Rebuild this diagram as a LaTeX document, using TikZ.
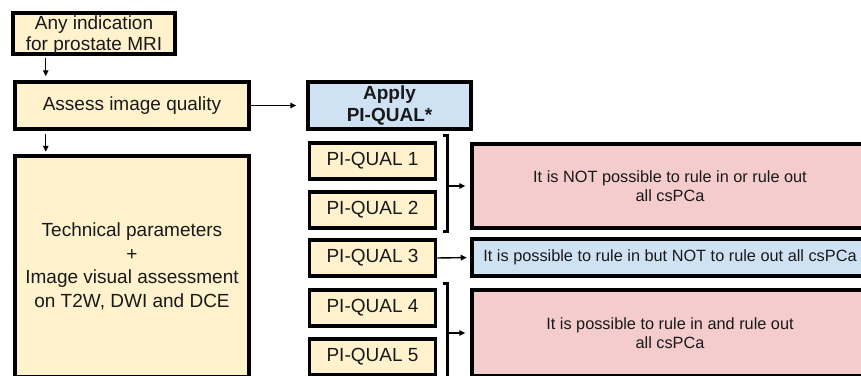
\documentclass[tikz,border=0pt]{standalone}
\usepackage{fontspec}
\setmainfont{Liberation Sans}
\usetikzlibrary{calc,arrows.meta,positioning}
\definecolor{qyellow}{HTML}{FFF2CC}
\definecolor{qblue}{HTML}{CFE2F3}
\definecolor{qpink}{HTML}{F4CCCC}

\begin{document}
\begin{tikzpicture}[x=1pt,y=-1pt,
	box/.style={draw,line width=3.5pt,fill=qyellow,align=center,inner sep=0pt,text=black!90,font=\fontsize{19}{21.5}\selectfont},
	res/.style={box,font=\fontsize{16.3}{19}\selectfont,minimum width=396pt},
	arr/.style={-{Triangle[length=6pt,width=5.5pt]},line width=1.4pt},
	brk/.style={line width=2.6pt}]
					\useasboundingbox (0,0) rectangle (861,375);
					\clip (0,0) rectangle (861,375);
					%LEFT COLUMN
					\node[box,minimum width=162pt,minimum height=41pt,text depth=0pt,font=\fontsize{19}{21}\selectfont] (any) at (94,33.5) {Any indication\\for prostate MRI};
					\node[box,minimum width=234pt,minimum height=47pt] (assess) at (132,105.5) {Assess image quality};
					\node[box,minimum width=234pt,minimum height=221pt,font=\fontsize{19}{23.5}\selectfont] (tech) at (132,266.5) {Technical parameters\\+\\Image visual assessment\\on T2W, DWI and DCE};
					\draw[arr,shorten <=2pt,shorten >=4pt] ([xshift=34.5pt]any.south west) -- ([xshift=34.5pt]any.south west |- assess.north);
					\draw[arr,shorten <=3pt,shorten >=2.5pt] ([xshift=32.5pt]assess.south west) -- ([xshift=32.5pt]assess.south west |- tech.north);
					%PI-QUAL
					\node[box,fill=qblue,minimum width=163pt,minimum height=47pt,font=\fontsize{19}{22}\selectfont\bfseries] (apply) at (389.5,105.5) {Apply\\PI-QUAL*};
					\draw[arr,shorten >=10pt] (assess.east) -- (apply.west);
					\foreach \i/\y in {1/161,2/210,3/258,4/308,5/357}
						\node[box,minimum width=126pt,minimum height=36pt] (pq\i) at (372.5,\y) {PI-QUAL \i};
					%RESULTS
					\node[res,fill=qpink,minimum height=84pt] (nopos) at (670,186) {It is NOT possible to rule in or rule out\\all csPCa};
					\node[res,fill=qblue,minimum height=37pt] (rulein) at (670,257.5) {It is possible to rule in but NOT to rule out all csPCa};
					\node[res,fill=qpink,minimum height=86pt] (both) at (670,333) {It is possible to rule in and rule out\\all csPCa};
					%BRACKETS
					\coordinate (b1t) at ($(pq1.north east)+(10.5,-6)$);
					\coordinate (b1b) at ($(pq2.south east)+(10.5,2)$);
					\coordinate (b2t) at ($(pq4.north east)+(10.5,-5)$);
					\coordinate (b2b) at ($(pq5.south east)+(10.5,2)$);
					\draw[brk] ($(b1t)+(-5,0)$) -- (b1t) -- (b1b) -- ++(-5,0);
					\draw[brk] ($(b2t)+(-5,0)$) -- (b2t) -- (b2b) -- ++(-5,0);
					\draw[arr,shorten >=5pt] (b1t |- nopos.west) -- (nopos.west);
					\draw[arr,shorten >=3.5pt] (pq3.east) -- (rulein.west);
					\draw[arr,shorten >=5pt] (b2t |- both.west) -- (both.west);
	  \end{tikzpicture}
\end{document}
